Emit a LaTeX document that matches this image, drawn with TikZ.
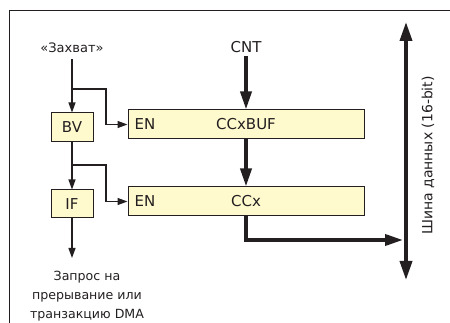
\documentclass[tikz,border=0pt]{standalone}
\usepackage{fontspec}
\setmainfont{DejaVu Sans}
\usetikzlibrary{arrows.meta}
\definecolor{boxfill}{RGB}{255,249,206}
\definecolor{ink}{RGB}{35,31,32}
\tikzset{
  blk/.style={draw=ink, line width=1pt, fill=boxfill, inner sep=0pt},
  thin/.style={draw=ink, line width=1.2pt, -{Triangle[length=10pt,width=7pt]}},
  thick/.style={draw=ink, line width=3.6pt, -{Triangle[length=18pt,width=11pt]}},
  small/.style={font=\fontsize{12.6}{18}\selectfont, text=ink, inner sep=0pt},
  big/.style={font=\fontsize{15}{18}\selectfont, text=ink},
}
\begin{document}
\begin{tikzpicture}[x=1pt,y=-1pt]
\useasboundingbox (0,0) rectangle (450,323);
% frame
\draw[ink, line width=0.9pt] (9,323) -- (9,10) -- (450,10);

% texts
\node[small, font=\fontsize{13}{18}\selectfont] (cap) at (72,48) {«Захват»};
\node[big] (cnt) at (246,47) {CNT};

% boxes
\node[blk, minimum width=42pt, minimum height=29pt] (bv) at (72,127.5) {};
\node[big] at (bv) {BV};
\node[blk, minimum width=42pt, minimum height=28pt] (iff) at (72,204) {};
\node[big] at (iff) {IF};
\node[blk, minimum width=236pt, minimum height=29pt] (buf) at (246,124.5) {};
\node[big, anchor=west] (en1) at (131,124.5) {EN};
\node[big] (bufl) at (246,124.5) {CCxBUF};
\node[blk, minimum width=236pt, minimum height=29pt] (cc) at (246,201.5) {};
\node[big, anchor=west] (en2) at (131,201.5) {EN};
\node[big] (ccl) at (246,201.5) {CCx};

% coordinates
\coordinate (j1) at (72,89);
\coordinate (j2) at (72,165);
\coordinate (req) at (72,258);
\coordinate (bt) at (406,22);
\coordinate (bb) at (406,280);
\coordinate (bm) at (403,240);

% thin connectors
\draw[thin] (cap.south) ++(0,6) -- (bv.north);
\draw[thin] (j1) -- (106,89) -- (106,124.5) -- (buf.west);
\draw[thin] (bv.south) -- (iff.north);
\draw[thin] (j2) -- (106,165) -- (106,201.5) -- (cc.west);
\draw[thin] (iff.south) -- (req);
\node[small, anchor=base] (r1) at (87,280) {Запрос на};
\node[small, anchor=base] (r2) at (87,300) {прерывание или};
\node[small, anchor=base] (r3) at (87,319) {транзакцию DMA};

% thick connectors
\draw[thick] (cnt.south) -- (buf.north);
\draw[thick] (buf.south) -- (cc.north);
\draw[thick] (cc.south) |- (bm);
\draw[draw=ink, line width=3.6pt, {Triangle[length=19pt,width=12pt]}-{Triangle[length=19pt,width=12pt]}] (bt) -- (bb);
\node[font=\fontsize{14}{16}\selectfont, text=ink, rotate=90] (bus) at (428,155.5) {Шина данных (16-bit)};
\end{tikzpicture}
\end{document}
